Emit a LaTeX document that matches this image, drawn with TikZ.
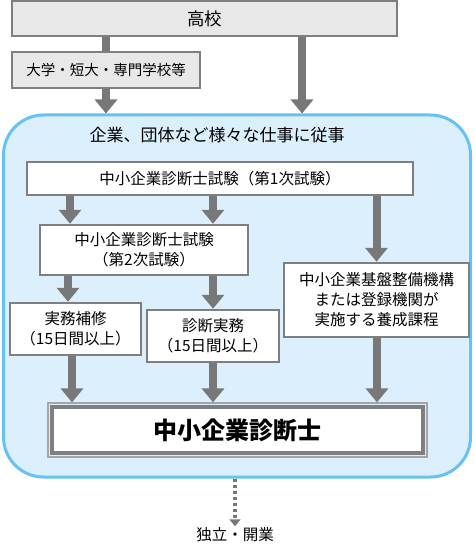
\documentclass[tikz,border=0pt]{standalone}
\usepackage{fontspec}
\setmainfont{Noto Sans CJK JP}
\usepackage{tikz}
\usetikzlibrary{arrows.meta}
\definecolor{linegray}{HTML}{7F7F7F}
\definecolor{arrowgray}{HTML}{787878}
\definecolor{fillgray}{HTML}{E8E8E8}
\definecolor{fieldblue}{HTML}{DCEFFD}
\definecolor{fieldedge}{HTML}{66C2F5}
\tikzset{
  box/.style={draw=linegray, line width=2.5pt, fill=white, inner sep=0pt, align=center, font=\fontsize{15.5}{20}\selectfont},
  graybox/.style={box, fill=fillgray},
  flow/.style={draw=arrowgray, line width=8pt, -{Triangle[width=22pt,length=14pt]}},
}

\begin{document}
\begin{tikzpicture}[x=1pt,y=-1pt]
        \useasboundingbox (0,0) rectangle (474,556);
        % field of work
        \node[draw=fieldedge, fill=fieldblue, line width=3pt, rounded corners=40pt, minimum width=467pt, minimum height=362pt] (field) at (237,296) {};
        \node[font=\fontsize{17}{20}\selectfont] (work) at (217,135) {企業、団体など様々な仕事に従事};
        %
        \node[graybox, minimum width=385pt, minimum height=35pt, font=\fontsize{17.5}{20}\selectfont] (koko) at (204.5,18.5) {高校};
        \node[graybox, minimum width=188pt, minimum height=36pt, font=\fontsize{14.5}{18}\selectfont] (daigaku) at (106,70) {大学・短大・専門学校等};
        \node[box, minimum width=386pt, minimum height=33pt] (exam1) at (220,178.5) {中小企業診断士試験（第1次試験）};
        \node[box, minimum width=208pt, minimum height=50pt] (exam2) at (144,250) {中小企業診断士試験\\（第2次試験）};
        \node[box, minimum width=185pt, minimum height=74pt] (kiko) at (376.5,300) {中小企業基盤整備機構\\または登録機関が\\実施する養成課程};
        \node[box, minimum width=131pt, minimum height=52pt] (hoshu) at (75.5,329) {実務補修\\（15日間以上）};
        \node[box, minimum width=132pt, minimum height=52pt] (jitsumu) at (213,336) {診断実務\\（15日間以上）};
        % final qualification, double frame
        \node[draw=linegray!70, line width=1.2pt, minimum width=379pt, minimum height=54pt] (shindanshi) at (237.5,430) {};
        \node[box, line width=3.5pt, minimum width=371pt, minimum height=46pt, font=\fontsize{24}{27}\selectfont\bfseries] (title) at (shindanshi) {中小企業診断士};
        \node[font=\fontsize{15.5}{19}\selectfont] (dokuritsu) at (235,535) {独立・開業};
        %
        % column positions
        \coordinate (colA) at (70,0);
        \coordinate (colB) at (213,0);
        \coordinate (colC) at (302,0);
        \coordinate (colD) at (68,0);
        \coordinate (colE) at (72,0);
        \coordinate (colF) at (377,0);
        %
        % flow arrows
        \draw[draw=arrowgray, line width=8pt] (koko.south -| daigaku) -- (daigaku.north);
        \draw[flow] (daigaku.south) -- (field.north -| daigaku);
        \draw[flow] (koko.south -| colC) -- (field.north -| colC);
        \draw[flow] (exam1.south -| colA) -- (exam2.north -| colA);
        \draw[flow] (exam1.south -| colB) -- (exam2.north -| colB);
        \draw[flow] (exam1.south -| kiko) -- (kiko.north);
        \draw[flow] (exam2.south -| colD) -- (hoshu.north -| colD);
        \draw[flow] (exam2.south -| jitsumu) -- (jitsumu.north);
        \draw[flow] (hoshu.south -| colE) -- (shindanshi.north -| colE);
        \draw[flow] (jitsumu.south) -- (shindanshi.north -| jitsumu);
        \draw[flow] (kiko.south -| colF) -- (shindanshi.north -| colF);
        % dotted way out
        \draw[draw=arrowgray, line width=4pt, dash pattern=on 3pt off 3pt, -{Triangle[width=11pt,length=7pt]}] (field.south -| dokuritsu) -- ([yshift=-2pt]dokuritsu.north);
\end{tikzpicture}
\end{document}
